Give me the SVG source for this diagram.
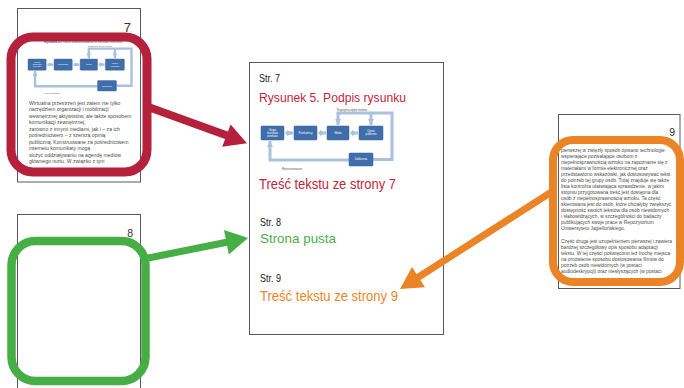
<svg xmlns="http://www.w3.org/2000/svg" width="684" height="388" viewBox="0 0 684 388">
  <style>
    .page { fill: #ffffff; stroke: #5a5a5a; stroke-width: 1; }
    .pnum { font-family: "Liberation Sans", Arial, sans-serif; fill: #333333; text-anchor: end; }
    .body { font-family: "Liberation Sans", Arial, sans-serif; fill: #4a4a4a; }
    .lbl { font-family: "Liberation Sans", Arial, sans-serif; }
    .fl { fill: none; stroke: #a9c1de; stroke-width: 3; }
    .fbox { fill: #3f6eab; stroke: #33609a; stroke-width: 0.5; }
    .ft { font-family: "Liberation Sans", Arial, sans-serif; font-size: 2.6px; fill: #ffffff; text-anchor: middle; }
    .fcap { font-family: "Liberation Sans", Arial, sans-serif; font-size: 2.6px; fill: #555555; text-anchor: middle; }
    .cap { font-family: "Liberation Sans", Arial, sans-serif; font-size: 3.2px; fill: #555555; }
    .hl { fill: none; stroke-linejoin: round; }
  </style>
  <defs>
    <marker id="fhead" viewBox="0 0 6 6" refX="6" refY="3" markerWidth="6" markerHeight="6" markerUnits="userSpaceOnUse" orient="auto">
      <path d="M0,0 L6,3 L0,6 z" fill="#a9c1de"/>
    </marker>
    <!-- small communication-process flowchart, local origin at the first box -->
    <g id="flow">
      <path class="fl" d="M112,33.5 H131 V-13 H77 V-1" marker-end="url(#fhead)"/>
      <path class="fl" d="M110,-13 V-1" marker-end="url(#fhead)"/>
      <path class="fl" d="M88,34 H9 V15" marker-end="url(#fhead)"/>
      <path class="fl" d="M24.5,7 H32" marker-end="url(#fhead)"/>
      <path class="fl" d="M57.5,7 H65" marker-end="url(#fhead)"/>
      <path class="fl" d="M89.5,7 H97" marker-end="url(#fhead)"/>
      <rect class="fbox" x="0" y="0" width="23" height="14" rx="1"/>
      <rect class="fbox" x="33" y="0" width="23" height="14" rx="1"/>
      <rect class="fbox" x="66" y="0" width="22" height="14" rx="1"/>
      <rect class="fbox" x="98" y="0" width="24" height="14" rx="1"/>
      <rect class="fbox" x="88" y="27" width="24" height="13" rx="1"/>
      <text class="ft" x="11.5" y="4.6">Grupa</text>
      <text class="ft" x="11.5" y="7.6">docelowa</text>
      <text class="ft" x="11.5" y="10.6">przekazu</text>
      <text class="ft" x="44.5" y="7.9">Przekaźnicy</text>
      <text class="ft" x="77" y="7.9">Media</text>
      <text class="ft" x="110" y="6.4">Opinia</text>
      <text class="ft" x="110" y="9.4">publiczna</text>
      <text class="ft" x="100" y="34.4">Zakłócenia</text>
      <text class="fcap" x="91" y="-15.5">Negatywny wpływ mediów</text>
      <text class="fcap" x="31" y="44">Reprezentowanie</text>
    </g>
  </defs>

  <rect width="684" height="388" fill="#ffffff"/>

  <!-- page 7 thumbnail -->
  <g id="page7">
    <rect class="page" x="17.5" y="8.5" width="123" height="173.5"/>
    <text class="pnum" x="131" y="31.5" font-size="13">7</text>
    <text class="cap" x="44" y="43" font-weight="bold">Rysunek 5.</text>
    <text class="cap" x="61" y="43">Proces komunikowania w sieciach internetu</text>
    <use href="#flow" transform="translate(28,59) scale(0.79,0.8)"/>
    <g class="body" font-size="5.8" transform="translate(29,0) scale(0.88,1)">
      <text x="0" y="105">Wirtualna przestrzeń jest zatem nie tylko</text>
      <text x="0" y="111.5">narzędziem organizacji i mobilizacji</text>
      <text x="0" y="118">wewnętrznej aktywistów, ale także sposobem</text>
      <text x="0" y="124.5">komunikacji zewnętrznej,</text>
      <text x="0" y="131">zarówno z innymi mediami, jak i – za ich</text>
      <text x="0" y="137.5">pośrednictwem – z szerszą opinią</text>
      <text x="0" y="144">publiczną. Konstruowane za pośrednictwem</text>
      <text x="0" y="150.5">internetu komunikaty mogą</text>
      <text x="0" y="157">służyć oddziaływaniu na agendę mediów</text>
      <text x="0" y="163.5">głównego nurtu. W związku z tym</text>
    </g>
  </g>

  <!-- page 8 thumbnail (empty) -->
  <g id="page8">
    <rect class="page" x="17.5" y="214.5" width="123" height="180"/>
    <text class="pnum" x="133" y="237" font-size="10.5">8</text>
  </g>

  <!-- page 9 thumbnail -->
  <g id="page9">
    <rect class="page" x="558.5" y="114.5" width="121.5" height="174"/>
    <text class="pnum" x="675" y="136" font-size="10.5">9</text>
    <g class="body" font-size="5.3" transform="translate(561,0) scale(0.92,1)">
      <text x="0" y="152">pierwszej w zwięzły sposób opisano technologie</text>
      <text x="0" y="158">wspierające pozwalające osobom z</text>
      <text x="0" y="164">niepełnosprawnością wzroku na zapoznanie się z</text>
      <text x="0" y="170">materiałami w formie elektronicznej oraz</text>
      <text x="0" y="176">przedstawiono wskazówki, jak dostosowywać tekst</text>
      <text x="0" y="182">do potrzeb tej grupy osób. Tutaj znajduje się także</text>
      <text x="0" y="188">lista kontrolna ułatwiająca sprawdzenie, w jakim</text>
      <text x="0" y="194">stopniu przygotowana treść jest dostępna dla</text>
      <text x="0" y="200">osób z niepełnosprawnością wzroku. Ta część</text>
      <text x="0" y="206">skierowana jest do osób, które chciałyby zwiększyć</text>
      <text x="0" y="212">dostępność swoich tekstów dla osób niewidomych</text>
      <text x="0" y="218">i słabowidzących, w szczególności do badaczy</text>
      <text x="0" y="224">publikujących swoje prace w Repozytorium</text>
      <text x="0" y="230">Uniwersytetu Jagiellońskiego.</text>
      <text x="0" y="243.5">Część druga jest uzupełnieniem pierwszej i zawiera</text>
      <text x="0" y="249.5">bardziej szczegółowy opis sposobu adaptacji</text>
      <text x="0" y="255.5">tekstu. W tej części poświęcono też trochę miejsca</text>
      <text x="0" y="261.5">na omówienie sposobu dostosowania filmów do</text>
      <text x="0" y="267.5">potrzeb osób niewidomych (w postaci</text>
      <text x="0" y="273.5">audiodeskrypcji) oraz niesłyszących (w postaci</text>
    </g>
  </g>

  <!-- merged output page -->
  <g id="merged">
    <rect class="page" x="249.5" y="62.5" width="194" height="272" stroke="#666666"/>
    <text class="lbl" x="259" y="82" font-size="10.5" fill="#222222" textLength="21" lengthAdjust="spacingAndGlyphs">Str. 7</text>
    <text class="lbl" x="259" y="101.5" font-size="13.5" fill="#c3253b" textLength="147" lengthAdjust="spacingAndGlyphs">Rysunek 5. Podpis rysunku</text>
    <use href="#flow" transform="translate(261,126)"/>
    <text class="lbl" x="259" y="189" font-size="14" fill="#c3253b" textLength="137" lengthAdjust="spacingAndGlyphs">Treść tekstu ze strony 7</text>
    <text class="lbl" x="260" y="226" font-size="10.5" fill="#222222" textLength="21" lengthAdjust="spacingAndGlyphs">Str. 8</text>
    <text class="lbl" x="260" y="243" font-size="13.5" fill="#4cae47" textLength="76" lengthAdjust="spacingAndGlyphs">Strona pusta</text>
    <text class="lbl" x="260" y="282" font-size="10.5" fill="#222222" textLength="21" lengthAdjust="spacingAndGlyphs">Str. 9</text>
    <text class="lbl" x="260" y="300.5" font-size="14" fill="#ee8629" textLength="138" lengthAdjust="spacingAndGlyphs">Treść tekstu ze strony 9</text>
  </g>

  <!-- highlight frames -->
  <g id="frames">
    <rect id="frame7" class="hl" x="11" y="37" width="136" height="135" rx="22" stroke="#b5203c" stroke-width="9"/>
    <rect id="frame8" class="hl" x="11.5" y="241" width="134" height="140" rx="24" stroke="#47ad45" stroke-width="8.5"/>
    <rect id="frame9" class="hl" x="553" y="140" width="127" height="142" rx="20" stroke="#ea8426" stroke-width="8"/>
  </g>

  <!-- connectors -->
  <g id="connectors">
    <g id="arrow7">
      <line x1="147" y1="106.5" x2="227" y2="135.5" stroke="#b5203c" stroke-width="8"/>
      <polygon points="247,143.3 222.2,146.8 230.6,124.4" fill="#b5203c"/>
    </g>
    <g id="arrow8">
      <line x1="146" y1="258.5" x2="228" y2="242" stroke="#47ad45" stroke-width="7"/>
      <polygon points="248,238 228.8,254.6 224,230" fill="#47ad45"/>
    </g>
    <g id="arrow9">
      <line x1="553" y1="191" x2="417" y2="278" stroke="#ea8426" stroke-width="7"/>
      <polygon points="400,289 425,287.2 412,267" fill="#ea8426"/>
    </g>
  </g>
</svg>
